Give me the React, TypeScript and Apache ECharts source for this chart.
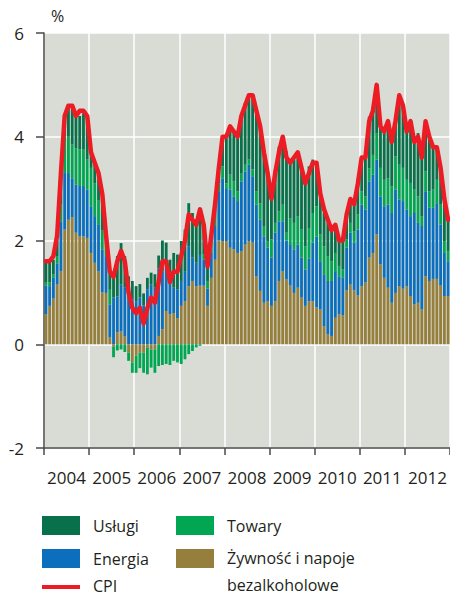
import React, { useEffect, useRef } from "react";
import * as echarts from "echarts";

const years = ["2004", "2005", "2006", "2007", "2008", "2009", "2010", "2011", "2012"];
const monthCodes = ["01", "02", "03", "04", "05", "06", "07", "08", "09", "10", "11", "12"];
const months = years.flatMap((y) => monthCodes.map((m) => `${y}-${m}`));

const yTicks = [-2, 0, 2, 4, 6];

// Żywność i napoje bezalkoholowe
const food = [
  0.58, 0.74, 0.88, 1.15, 1.41, 2.21, 2.4, 2.45, 2.15, 2.08, 2.08, 2.05,
  1.76, 1.57, 1.41, 1.0, 0.99, 0.13, -0.05, 0.23, 0.25, 0.15, -0.16, -0.35,
  -0.22, -0.16, -0.16, -0.06, -0.1, -0.1, 0.16, 0.29, 0.64, 0.58, 0.6, 0.5,
  0.74, 0.83, 1.12, 1.22, 1.12, 1.13, 1.13, 0.74, 1.28, 1.63, 2.0, 1.99,
  1.99, 1.86, 1.83, 1.76, 1.79, 1.92, 1.99, 1.96, 1.31, 1.03, 0.8, 0.83,
  0.74, 0.83, 1.22, 1.41, 1.25, 1.13, 0.99, 1.09, 0.9, 0.74, 0.83, 0.83,
  0.71, 0.67, 0.35, 0.19, 0.16, 0.51, 0.58, 0.56, 1.04, 1.15, 1.04, 0.94,
  1.12, 1.19, 1.67, 1.76, 2.12, 1.54, 1.28, 1.09, 0.8, 0.99, 1.12, 1.07,
  1.12, 0.93, 0.77, 0.8, 0.67, 1.31, 1.22, 1.26, 1.26, 1.13, 0.93, 0.93,
];

// Energia
const energy = [
  0.55, 0.38, 0.4, 0.4, 0.96, 1.09, 0.9, 0.75, 0.93, 0.97, 0.97, 0.93,
  0.9, 0.9, 0.89, 0.83, 0.71, 0.64, 0.9, 0.69, 0.9, 0.95, 1.0, 0.87,
  0.83, 0.9, 0.75, 1.06, 1.15, 1.09, 1.3, 1.11, 0.9, 0.8, 0.49, 0.56,
  0.48, 0.58, 0.77, 0.45, 0.45, 0.59, 0.5, 0.33, 0.48, 0.65, 0.95, 1.21,
  1.02, 1.12, 1.02, 1.0, 1.35, 1.41, 1.47, 1.28, 1.38, 1.37, 1.28, 1.03,
  0.93, 1.32, 1.15, 0.96, 0.75, 0.8, 0.84, 0.83, 0.77, 0.7, 0.82, 1.13,
  1.37, 0.93, 1.0, 1.03, 1.06, 0.9, 0.73, 0.73, 0.82, 1.0, 0.92, 1.27,
  1.57, 1.41, 1.47, 1.51, 1.44, 1.31, 1.38, 1.6, 1.73, 1.99, 1.67, 1.69,
  1.48, 1.54, 1.76, 1.54, 1.61, 1.64, 1.41, 1.37, 1.46, 1.18, 0.83, 0.67,
];

// Towary
const goods = [
  0.07, 0.07, 0.07, 0.15, 0.33, 0.7, 0.7, 0.65, 0.7, 0.71, 0.7, 0.58,
  0.74, 0.63, 0.48, 0.37, 0.3, 0.28, -0.2, -0.12, -0.1, -0.15, -0.16, -0.2,
  -0.33, -0.3, -0.39, -0.52, -0.35, -0.45, -0.42, -0.4, -0.38, -0.4, -0.32, -0.35,
  -0.38, -0.29, -0.19, -0.13, -0.06, -0.03, 0.1, 0.15, 0.2, 0.16, 0.15, 0.23,
  0.09, 0.29, 0.29, 0.19, 0.16, 0.13, 0.1, 0.13, 0.26, 0.32, 0.2, 0.13,
  0.35, 0.19, 0.19, 0.32, 0.15, 0.5, 0.51, 0.55, 0.54, 0.45, 0.59, 0.57,
  0.58, 0.52, 0.54, 0.48, 0.38, 0.35, 0.2, 0.15, 0.16, 0.19, 0.22, 0.29,
  0.26, 0.25, 0.25, 0.38, 0.51, 0.55, 0.51, 0.51, 0.51, 0.64, 0.67, 0.64,
  0.57, 0.64, 0.45, 0.51, 0.19, 0.38, 0.32, 0.35, 0.45, 0.38, 0.23, 0.2,
];

// Usługi
const services = [
  0.37, 0.38, 0.28, 0.3, 0.6, 0.45, 0.6, 0.7, 0.62, 0.64, 0.7, 0.74,
  0.3, 0.4, 0.42, 0.6, 0.15, 0.39, 0.45, 0.78, 0.8, 0.6, 0.31, 0.35,
  0.29, 0.26, 0.23, 0.22, 0.23, 0.26, 0.25, 0.6, 0.42, 0.25, 0.67, 0.67,
  0.77, 0.8, 0.83, 0.86, 0.8, 0.91, 0.6, 0.28, 0.12, 0.22, 0.23, 0.51,
  0.87, 0.9, 0.93, 1.02, 1.06, 1.19, 1.22, 1.41, 1.54, 1.48, 1.44, 1.3,
  0.8, 1.03, 1.25, 1.25, 1.57, 1.1, 1.22, 1.2, 1.25, 1.28, 1.19, 1.03,
  0.87, 0.8, 0.64, 0.64, 0.58, 0.52, 0.54, 0.55, 0.51, 0.48, 0.6, 0.69,
  0.64, 0.74, 1.0, 0.93, 0.87, 0.86, 0.9, 1.09, 0.9, 0.71, 1.28, 1.18,
  0.98, 1.22, 0.96, 1.22, 1.18, 0.96, 1.02, 0.83, 0.61, 0.77, 0.8, 0.6,
];

// CPI
const cpi = [
  1.6, 1.6, 1.7, 2.1, 3.3, 4.4, 4.6, 4.6, 4.4, 4.5, 4.5, 4.4,
  3.7, 3.5, 3.3, 2.9, 2.1, 1.4, 1.3, 1.6, 1.8, 1.6, 1.0, 0.7,
  0.6, 0.7, 0.4, 0.7, 0.9, 0.8, 1.2, 1.6, 1.6, 1.2, 1.4, 1.4,
  1.7, 2.0, 2.5, 2.4, 2.3, 2.6, 2.3, 1.5, 2.1, 2.7, 3.4, 4.0,
  4.0, 4.2, 4.1, 4.0, 4.4, 4.6, 4.8, 4.8, 4.5, 4.2, 3.7, 3.3,
  2.8, 3.3, 3.7, 4.0, 3.6, 3.5, 3.6, 3.7, 3.4, 3.1, 3.3, 3.5,
  3.5, 2.9, 2.6, 2.4, 2.2, 2.3, 2.0, 2.0, 2.5, 2.8, 2.7, 3.1,
  3.6, 3.6, 4.3, 4.5, 5.0, 4.2, 4.1, 4.3, 3.9, 4.3, 4.8, 4.6,
  4.1, 4.3, 3.9, 4.0, 3.6, 4.3, 4.0, 3.8, 3.8, 3.4, 2.8, 2.4,
];

const C_SERV = "#08704a";
const C_GOODS = "#00a651";
const C_ENERGY = "#0b6fbe";
const C_FOOD = "#967f3c";
const C_CPI = "#ed1c24";
const TEXT = "#231f20";
const AXIS = "#4a4a4a";
const FONT = "Open Sans";

export default function App() {
  const ref = useRef<HTMLDivElement>(null);
  useEffect(() => {
    if (!ref.current) return;
    const chart = echarts.init(ref.current, null, { renderer: "svg" });
    const barBase = {
      type: "bar",
      stack: "cpi",
      xAxisIndex: 0,
      barCategoryGap: "25%",
      stackStrategy: "samesign",
    };
    const legendText = (x: number, y: number, t: string) => ({
      type: "text",
      x,
      y,
      style: { text: t, fill: TEXT, font: `16px "${FONT}"`, verticalAlign: "middle", align: "left" },
    });
    chart.setOption({
      animation: false,
      backgroundColor: "#ffffff",
      textStyle: { fontFamily: FONT },
      grid: {
        left: 44,
        right: 0,
        top: 33,
        bottom: 149,
        show: true,
        backgroundColor: "#d8dcd5",
        borderWidth: 0,
      },
      xAxis: [
        {
          type: "category",
          data: months,
          show: false,
          boundaryGap: true,
        },
        {
          type: "category",
          data: years,
          position: "bottom",
          boundaryGap: true,
          axisLine: { show: true, lineStyle: { color: AXIS, width: 1.5 } },
          axisTick: { show: true, length: 7, interval: 0, lineStyle: { color: AXIS, width: 1.5 } },
          axisLabel: { show: true, interval: 0, margin: 21, color: TEXT, fontSize: 17, fontFamily: FONT },
          splitLine: { show: true, interval: 0, lineStyle: { color: "#ffffff", width: 1.5 } },
        },
      ],
      yAxis: {
        type: "value",
        min: yTicks[0],
        max: yTicks[yTicks.length - 1],
        interval: 2,
        axisLine: { show: true, lineStyle: { color: AXIS, width: 1.5 } },
        axisTick: { show: true, length: 8, lineStyle: { color: AXIS, width: 1.5 } },
        axisLabel: { margin: 20, color: TEXT, fontSize: 17, fontFamily: FONT },
        splitLine: { show: true, lineStyle: { color: "#ffffff", width: 1.5 } },
      },
      series: [
        { ...barBase, name: "Żywność i napoje bezalkoholowe", data: food, itemStyle: { color: C_FOOD } },
        { ...barBase, name: "Energia", data: energy, itemStyle: { color: C_ENERGY } },
        { ...barBase, name: "Towary", data: goods, itemStyle: { color: C_GOODS } },
        { ...barBase, name: "Usługi", data: services, itemStyle: { color: C_SERV } },
        {
          type: "line",
          name: "CPI",
          xAxisIndex: 0,
          data: cpi,
          symbol: "none",
          z: 5,
          lineStyle: { color: C_CPI, width: 4.5, join: "round", cap: "round" },
        },
      ],
      graphic: [
        {
          type: "text",
          x: 51,
          y: 8,
          style: { text: "%", fill: TEXT, font: `16px "${FONT}"`, verticalAlign: "top" },
        },
        { type: "rect", shape: { x: 42, y: 516, width: 38, height: 19 }, style: { fill: C_SERV } },
        legendText(93, 526, "Usługi"),
        { type: "rect", shape: { x: 176, y: 516, width: 38, height: 19 }, style: { fill: C_GOODS } },
        legendText(227, 526, "Towary"),
        { type: "rect", shape: { x: 42, y: 549, width: 38, height: 19 }, style: { fill: C_ENERGY } },
        legendText(93, 559, "Energia"),
        { type: "rect", shape: { x: 176, y: 549, width: 38, height: 19 }, style: { fill: C_FOOD } },
        legendText(227, 558, "Żywność i napoje"),
        legendText(227, 585, "bezalkoholowe"),
        { type: "rect", shape: { x: 42, y: 585, width: 38, height: 4 }, style: { fill: C_CPI } },
        legendText(93, 586, "CPI"),
      ],
    });
    return () => chart.dispose();
  }, []);
  return (
    <div
      ref={ref}
      style={{ position: "fixed", left: 0, top: 0, width: 450, height: 597, background: "#fff" }}
    />
  );
}
